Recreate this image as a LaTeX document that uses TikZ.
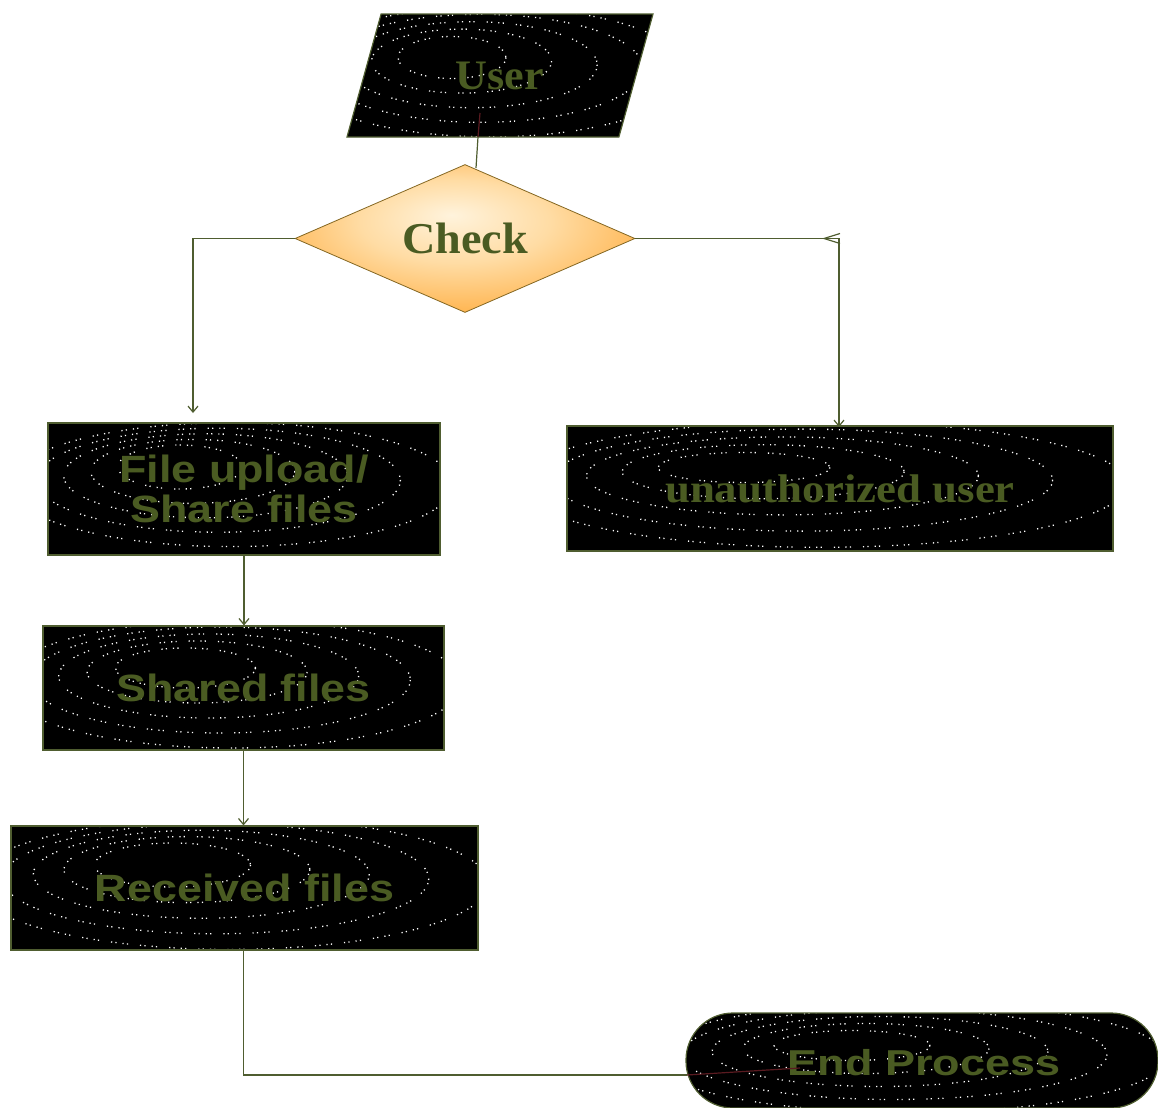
\documentclass[tikz,border=0pt]{standalone}
\usepackage{fontspec}
\setmainfont{Liberation Serif}
\setsansfont{Liberation Sans}
\newfontfamily\widesans[FakeStretch=1.18]{Liberation Sans}
\newfontfamily\endsans[FakeStretch=1.25]{Liberation Sans}
\newfontfamily\wideserif[FakeStretch=1.05]{Liberation Serif}
\newfontfamily\unauthserif[FakeStretch=1.12]{Liberation Serif}
\usetikzlibrary{shapes.geometric,arrows.meta}
\definecolor{labelgreen}{HTML}{4A5B22}
\definecolor{wiregreen}{HTML}{4F5D30}
\definecolor{wirered}{HTML}{5A1A20}
\definecolor{glowcore}{HTML}{FFF3DC}
\definecolor{glowmid}{HTML}{FFDCA4}
\definecolor{glowedge}{HTML}{FFB24A}
\definecolor{glowtip}{HTML}{F9981E}
\pgfdeclareradialshading{checkglow}{\pgfpoint{-2bp}{8bp}}{color(0bp)=(glowcore); color(14bp)=(glowmid); color(30bp)=(glowedge); color(50bp)=(glowtip)}

\begin{document}
\begin{tikzpicture}[
    x=0.5pt,y=-0.5pt,
    ringline/.style={white,line width=0.65pt,dash pattern=on 0.6pt off 1.6pt on 0.6pt off 3pt on 0.6pt off 1.6pt on 0.6pt off 6pt},
    rings/.style n args={6}{path picture={
        \foreach \k in {0,...,4}{
            \pgfmathsetmacro{\fac}{1-\k/5}
            \draw[ringline] (path picture bounding box.center) ++({#1*\fac},{#2*\fac})
                ellipse ({#3+\k*#5} and {#4+\k*#6});
        }
    }},
    ripple/.style={draw=wiregreen,fill=black,line width=0.6pt,inner sep=0pt,text=labelgreen},
    stepbox/.style={ripple,rectangle,font=\widesans\bfseries\fontsize{19}{19.5}\selectfont,align=center},
    wire/.style={draw=wiregreen,line width=0.6pt,>={Straight Barb[length=3pt,width=5pt]}},
    redwire/.style={draw=wirered,line width=0.6pt},
]
    \useasboundingbox (0,0) rectangle (1158,1108);

    %%%
    % Boxes of the flow
    \node[ripple,trapezium,trapezium left angle=74.5,trapezium right angle=105.5,
        trapezium stretches body,minimum width=153pt,inner ysep=24pt,text height=13.5pt,text depth=0pt,
        rings={-48}{-18}{54}{21}{36}{11},
        font=\wideserif\bfseries\fontsize{21}{21}\selectfont] (user) at (500,75.5) {User};
    \node[draw=wiregreen!70!orange,diamond,shade,shading=checkglow,inner sep=0pt,minimum width=170pt,minimum height=74pt,
        aspect=2.3,text=labelgreen,font=\wideserif\bfseries\fontsize{22}{22}\selectfont] (check) at (465,238.5) {Check};
    \node[stepbox,minimum width=196pt,minimum height=66pt,rings={-64}{-22}{62}{22}{40}{10}] (upload) at (244,489)
        {File upload/\\[0.5pt]Share files};
    \node[stepbox,font=\unauthserif\bfseries\fontsize{20}{20}\selectfont,minimum width=273pt,minimum height=62.5pt,
        rings={-96}{-21}{86}{15}{55}{12}] (unauth) at (840,488.5) {unauthorized user};
    \node[stepbox,minimum width=200.5pt,minimum height=62pt,rings={-58}{-20}{70}{20}{40}{11}] (shared) at (243.5,688) {Shared files};
    \node[stepbox,minimum width=233.5pt,minimum height=62pt,rings={-72}{-23}{78}{22}{45}{11}] (received) at (244.5,888) {Received files};
    \node[stepbox,rounded corners=23.5pt,minimum width=236pt,minimum height=47.5pt,
        rings={-70}{-15}{78}{15}{45}{10}] (endproc) at (922,1060.5) {\hspace*{1pt}};
    \node[text=labelgreen,font=\endsans\bfseries\fontsize{18}{18}\selectfont,inner sep=0pt] (endlabel) at (924,1063) {End Process};

    %%%
    % Free ends and bends
    \coordinate (uploadtip) at (193,413);
    \coordinate (unauthtop) at (839,427);
    \coordinate (rightbend) at (check.east -| unauthtop);
    \coordinate (backtip) at ([xshift=-8.5pt]rightbend);
    \coordinate (receivedout) at (shared.south |- received.south);
    \coordinate (endedge) at (687,1075);
    \coordinate (endinner) at (800,1068);
    \coordinate (userinner) at (480,113);
    \coordinate (userbase) at (478,137);
    \coordinate (checktop) at (476,168);

    %%%
    % Connectors
    \draw[redwire] (userinner) -- (userbase);
    \draw[wire] (userbase) -- (checktop);
    \draw[wire,->] (check.west) -| (uploadtip);
    \draw[wire,->] (check.east) -| (unauthtop);
    \draw[wire,-{Straight Barb[length=8pt,width=5pt]}] (rightbend) -- (backtip);
    \draw[wire,->] (upload.south) -- (upload.south |- shared.north);
    \draw[wire,->] (shared.south) -- (shared.south |- received.north);
    \draw[wire] (receivedout) |- (endedge);
    \draw[redwire] (endedge) -- (endinner);

\end{tikzpicture}
\end{document}
